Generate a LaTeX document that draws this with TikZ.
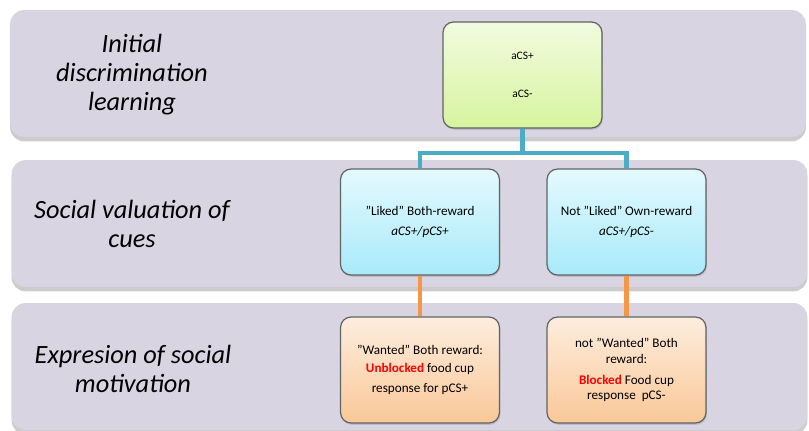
\documentclass[tikz,border=0pt]{standalone}
\usepackage{fontspec}
\setmainfont{Carlito}
\usepackage{xcolor}
\usepackage{tikz}
\usetikzlibrary{positioning,shadows}

\definecolor{bandfill}{RGB}{217,212,226}
\definecolor{greentop}{RGB}{242,251,224}
\definecolor{greenbot}{RGB}{214,244,158}
\definecolor{bluetop}{RGB}{228,249,253}
\definecolor{bluebot}{RGB}{168,234,250}
\definecolor{orangetop}{RGB}{253,237,222}
\definecolor{orangebot}{RGB}{250,200,152}
\definecolor{tealline}{RGB}{75,172,198}
\definecolor{orangeline}{RGB}{247,150,70}
\definecolor{boxedge}{RGB}{95,100,100}

\tikzset{
    band/.style={rectangle, rounded corners=8pt, fill=bandfill,
        minimum width=15.92cm, minimum height=2.54cm,
        drop shadow={shadow xshift=0pt, shadow yshift=-2.5pt, opacity=0.4}},
    stage/.style={align=center, font=\fontsize{15}{16.5}\selectfont\itshape},
    cuebox/.style={rectangle, rounded corners=6pt, draw=boxedge, line width=0.7pt,
        minimum width=3.18cm, minimum height=2.12cm, align=center,
        font=\fontsize{7.5}{11.5}\selectfont,
        drop shadow={shadow xshift=0.5pt, shadow yshift=-1pt, opacity=0.3}},
    greenbox/.style={cuebox, top color=greentop, bottom color=greenbot},
    bluebox/.style={cuebox, top color=bluetop, bottom color=bluebot},
    orangebox/.style={cuebox, top color=orangetop, bottom color=orangebot},
    tealconn/.style={draw=tealline, line width=2.6pt},
    orangeconn/.style={draw=orangeline, line width=2.6pt}
}

\begin{document}
\begin{tikzpicture}[x=0.02cm, y=-0.02cm]
    \useasboundingbox (0,0) rectangle (809,430);

    % Background bands
    \node[band] (band1) at (408,73.5) {};
    \node[band] (band2) at (409.5,223.5) {};
    \node[band] (band3) at (409.5,366.5) {};

    % Stage names
    \node[stage] (initial) at (132,75) {Initial\\discrimination\\learning};
    \node[stage] (valuation) at (132,224) {Social valuation of\\cues};
    \node[stage] (motivation) at (133,369) {Expresion of social\\motivation};

    % Cue boxes
    \node[greenbox, font=\fontsize{6.5}{22}\selectfont] (acs) at (522.5,75) {aCS+\\aCS-};
    \node[bluebox] (liked) at (420,222) {"Liked" Both-reward\\\textit{aCS+/pCS+}};
    \node[bluebox] (notliked) at (626.5,222) {Not "Liked" Own-reward\\\textit{aCS+/pCS-}};
    \node[orangebox] (wanted) at (420,370)
        {"Wanted" Both reward:\\[-1pt]\textcolor{red}{\textbf{Unblocked}} food cup\\response for pCS+};
    \node[orangebox, font=\fontsize{7.5}{9}\selectfont] (notwanted) at (626.5,370)
        {not "Wanted" Both\\reward:\\[3pt]\textcolor{red}{\textbf{Blocked}} Food cup\\response\ \ pCS-};

    % Connectors
    \coordinate (split) at (522.5,153);
    \draw[tealconn] (acs.south) -- (split) -| (liked.north);
    \draw[tealconn] (split) -| (notliked.north);
    \draw[orangeconn] (liked.south) -- (wanted.north);
    \draw[orangeconn] (notliked.south) -- (notwanted.north);
\end{tikzpicture}
\end{document}
